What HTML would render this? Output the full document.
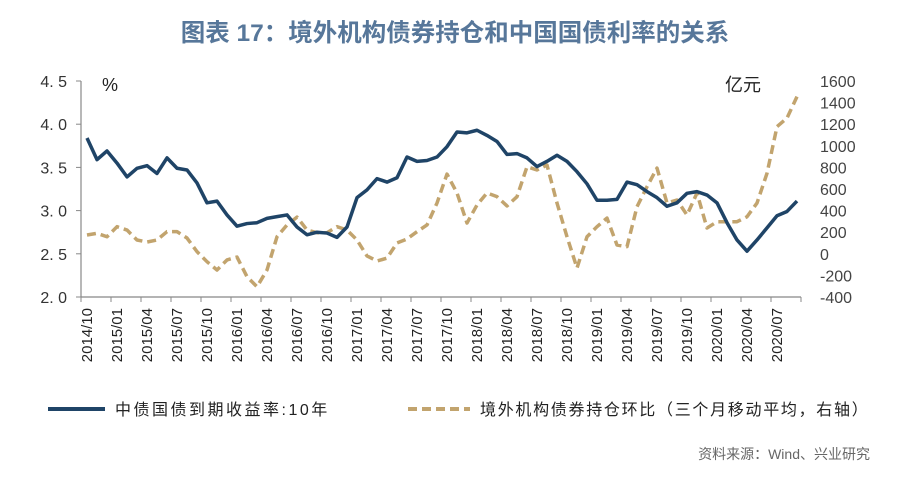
<!DOCTYPE html>
<html><head><meta charset="utf-8"><style>
body{margin:0;background:#fff;width:900px;height:487px;overflow:hidden;font-family:"Liberation Sans","Noto Sans CJK SC",sans-serif}
svg{display:block}
</style></head><body>
<svg width="900" height="487">
<text x="455" y="41" text-anchor="middle" font-size="24.5" font-weight="bold" fill="#57779a" font-family="Liberation Sans, Noto Sans CJK SC, sans-serif">图表 17：境外机构债券持仓和中国国债利率的关系</text>
<g id="axes"></g>
<g id="marks"></g>
<text x="102" y="91" font-size="18" fill="#222">%</text>
<text x="725" y="91" font-size="18" fill="#222" font-family="Noto Sans CJK SC, sans-serif">亿元</text>
<g>
<line x1="48" y1="409" x2="105" y2="409" stroke="#1f4467" stroke-width="4"/>
<text x="115" y="415" font-size="16" fill="#222" letter-spacing="2.5" font-family="Liberation Sans, Noto Sans CJK SC, sans-serif">中债国债到期收益率:10年</text>
<line x1="408" y1="409" x2="470" y2="409" stroke="#c2a46e" stroke-width="4" stroke-dasharray="9,5"/>
<text x="480" y="415" font-size="16" fill="#222" letter-spacing="1.7" font-family="Liberation Sans, Noto Sans CJK SC, sans-serif">境外机构债券持仓环比（三个月移动平均，右轴）</text>
</g>
<text x="870" y="459" text-anchor="end" font-size="14" fill="#666" font-family="Liberation Sans, Noto Sans CJK SC, sans-serif">资料来源：Wind、兴业研究</text>
</svg>
<script>
const xLabels=["2014/10","2015/01","2015/04","2015/07","2015/10","2016/01","2016/04","2016/07","2016/10","2017/01","2017/04","2017/07","2017/10","2018/01","2018/04","2018/07","2018/10","2019/01","2019/04","2019/07","2019/10","2020/01","2020/04","2020/07"];
const leftTicks=[2.0,2.5,3.0,3.5,4.0,4.5];
const rightTicks=[-400,-200,0,200,400,600,800,1000,1200,1400,1600];
const yieldVals=[3.84,3.59,3.69,3.55,3.39,3.49,3.52,3.43,3.61,3.49,3.47,3.32,3.09,3.11,2.95,2.82,2.85,2.86,2.91,2.93,2.95,2.81,2.72,2.75,2.74,2.69,2.81,3.15,3.24,3.37,3.33,3.38,3.62,3.57,3.58,3.62,3.74,3.91,3.90,3.93,3.87,3.80,3.65,3.66,3.61,3.51,3.57,3.64,3.57,3.45,3.31,3.12,3.12,3.13,3.33,3.30,3.22,3.15,3.05,3.09,3.20,3.22,3.18,3.09,2.86,2.66,2.53,2.66,2.80,2.94,2.99,3.11];
const holdingVals=[174,190,158,251,220,128,109,128,205,205,146,20,-73,-150,-57,-30,-212,-305,-150,158,267,340,220,195,195,251,220,128,-20,-67,-40,100,137,205,267,470,738,563,285,452,563,529,443,529,806,776,822,470,158,-132,158,251,331,81,66,436,621,794,470,498,359,563,239,297,297,297,343,470,745,1177,1257,1455];
const NS="http://www.w3.org/2000/svg";
const X0=87,DX=10,AX=81,AY=297,TOP=81;
const xPos=i=>X0+i*DX;
const yL=v=>AY-(v-2.0)/(4.5-2.0)*(AY-TOP);
const yR=v=>AY-(v+400)/2000*(AY-TOP);
function mk(tag,attrs,parent){const e=document.createElementNS(NS,tag);for(const k in attrs)e.setAttribute(k,attrs[k]);parent.appendChild(e);return e;}
const axes=document.getElementById('axes'),marks=document.getElementById('marks');
const la=mk('line',{x1:AX,y1:TOP,x2:AX,y2:AY,stroke:'#888','stroke-width':1.2},axes);


const ba=mk('line',{x1:AX,y1:AY,x2:AX+yieldVals.length*DX,y2:AY,stroke:'#888','stroke-width':1.2},axes);


leftTicks.forEach(v=>{const y=yL(v);
mk('line',{x1:AX-5,y1:y,x2:AX,y2:y,stroke:'#888'},axes);
const t=mk('text',{x:67,y:y+6,'text-anchor':'end','font-size':16,fill:'#333'},axes);t.textContent=v.toFixed(1).replace('.','. ');

});
rightTicks.forEach(v=>{const t=mk('text',{x:820,y:yR(v)+6,'font-size':16,fill:'#444'},axes);t.textContent=v;

});
for(let k=0;k<=yieldVals.length/3;k++){const x=AX+k*30;mk('line',{x1:x,y1:AY,x2:x,y2:AY+5,stroke:'#888'},axes);}
xLabels.forEach((s,k)=>{const x=xPos(k*3)+5;const t=mk('text',{x:0,y:0,transform:`translate(${x},308) rotate(-90)`,'text-anchor':'end','font-size':15,fill:'#222'},axes);t.textContent=s;

});
const hp=mk('polyline',{points:holdingVals.map((v,i)=>xPos(i)+','+yR(v)).join(' '),fill:'none',stroke:'#c2a46e','stroke-width':3.5,'stroke-dasharray':'9,5','stroke-linejoin':'round'},marks);


const yp=mk('polyline',{points:yieldVals.map((v,i)=>xPos(i)+','+yL(v)).join(' '),fill:'none',stroke:'#1f4467','stroke-width':3.5,'stroke-linejoin':'round'},marks);


</script>
</body></html>
